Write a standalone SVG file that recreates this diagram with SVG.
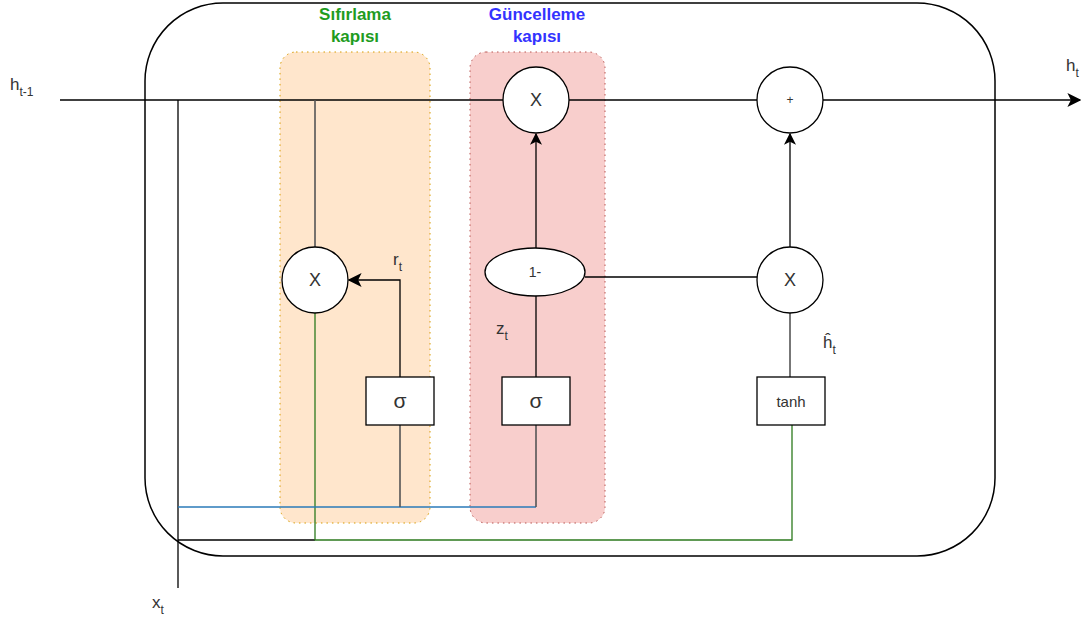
<svg xmlns="http://www.w3.org/2000/svg" width="1086" height="621" viewBox="0 0 1086 621">
  <defs>
    <marker id="arr" viewBox="0 0 10 10" refX="9" refY="5" markerWidth="12" markerHeight="12" orient="auto" markerUnits="userSpaceOnUse">
      <path d="M0,0 L10,5 L0,10 L2.5,5 Z" fill="#000"/>
    </marker>
    <marker id="arrBig" viewBox="0 0 10 10" refX="9" refY="5" markerWidth="14" markerHeight="14" orient="auto" markerUnits="userSpaceOnUse">
      <path d="M0,0 L10,5 L0,10 L2.5,5 Z" fill="#000"/>
    </marker>
  </defs>
  <style>
    text { font-family: "Liberation Sans", Arial, sans-serif; fill: #333; }
    .op { fill: #fff; stroke: #000; stroke-width: 1.3; }
    .box { fill: #fff; stroke: #000; stroke-width: 1.3; }
    .w { stroke: #000; stroke-width: 1.3; fill: none; }
    .g { stroke: #555; stroke-width: 1.6; fill: none; }
    .grn { stroke: #2d7a1e; stroke-width: 1.3; fill: none; }
    .blu { stroke: #2a7ab8; stroke-width: 1.3; fill: none; }
    .lbl { font-size: 17px; }
    .sub { font-size: 12px; }
    .sym { font-size: 18px; text-anchor: middle; }
    .gate { font-size: 17px; font-weight: bold; text-anchor: middle; }
  </style>

  <!-- cell boundary -->
  <rect id="cell" x="145" y="3" width="850" height="553" rx="78" ry="78" fill="none" stroke="#000" stroke-width="1.5"/>

  <!-- gate regions -->
  <g id="reset-gate">
    <rect x="280" y="52" width="150" height="471" rx="16" fill="#ffe6cc" stroke="#d79b00" stroke-width="1" stroke-dasharray="1.5 4"/>
    <text class="gate" x="355" y="20" style="fill:#1f9c1f">Sıfırlama</text>
    <text class="gate" x="355" y="42" style="fill:#1f9c1f">kapısı</text>
  </g>
  <g id="update-gate">
    <rect x="470" y="52" width="135" height="471" rx="16" fill="#f8cecc" stroke="#b85450" stroke-width="1" stroke-dasharray="1.5 4"/>
    <text class="gate" x="537" y="20" style="fill:#3333ff">Güncelleme</text>
    <text class="gate" x="537" y="42" style="fill:#3333ff">kapısı</text>
  </g>

  <!-- connectors -->
  <g id="connectors">
    <!-- h(t-1) running through the cell -->
    <path class="w" d="M60,100 H503"/>
    <path class="w" d="M569,100 H757"/>
    <path class="w" d="M823,100 H1080" marker-end="url(#arrBig)"/>
    <!-- x(t) input -->
    <path class="w" d="M178,100 V588"/>
    <!-- h(t-1) down to reset multiply -->
    <path class="g" d="M315,100 V247"/>
    <!-- reset product to tanh -->
    <path class="w" d="M178,540 H315"/>
    <path class="grn" d="M315,313 V540 H792 V425"/>
    <!-- x(t) into the sigmoids -->
    <path class="blu" d="M178,507 H536"/>
    <path class="g" d="M400,507 V425"/>
    <path class="g" d="M536,507 V425"/>
    <!-- r(t) -->
    <path class="w" d="M400,377 V280 H349" marker-end="url(#arrBig)"/>
    <!-- z(t) -->
    <path class="w" d="M536,377 V296"/>
    <path class="w" d="M536,248 V134" marker-end="url(#arr)"/>
    <path class="w" d="M585,277 H757"/>
    <!-- candidate -->
    <path class="g" d="M790,377 V313"/>
    <path class="w" d="M790,247 V134" marker-end="url(#arr)"/>
  </g>

  <!-- operators -->
  <g id="mul-top">
    <circle class="op" cx="536" cy="100" r="33"/>
    <text class="sym" x="536" y="106">X</text>
  </g>
  <g id="add-out">
    <circle class="op" cx="790" cy="100" r="33"/>
    <text class="sym" x="790" y="104" style="font-size:12px">+</text>
  </g>
  <g id="mul-reset">
    <circle class="op" cx="315" cy="280" r="33"/>
    <text class="sym" x="315" y="286">X</text>
  </g>
  <g id="one-minus">
    <ellipse class="op" cx="535" cy="272" rx="50" ry="24"/>
    <text class="sym" x="535" y="277" style="font-size:14px">1-</text>
  </g>
  <g id="mul-cand">
    <circle class="op" cx="790" cy="280" r="33"/>
    <text class="sym" x="790" y="286">X</text>
  </g>
  <g id="sigma-r">
    <rect class="box" x="366" y="377" width="68" height="48"/>
    <text class="sym" x="400" y="408" style="font-size:21px">σ</text>
  </g>
  <g id="sigma-z">
    <rect class="box" x="502" y="377" width="68" height="48"/>
    <text class="sym" x="536" y="408" style="font-size:21px">σ</text>
  </g>
  <g id="tanh">
    <rect class="box" x="757" y="377" width="68" height="48"/>
    <text class="sym" x="791" y="407" style="font-size:15px">tanh</text>
  </g>

  <!-- signal labels -->
  <g id="labels">
    <text class="lbl" x="10" y="90">h<tspan class="sub" dy="6">t-1</tspan></text>
    <text class="lbl" x="1066" y="71">h<tspan class="sub" dy="6">t</tspan></text>
    <text class="lbl" x="393" y="265">r<tspan class="sub" dy="6">t</tspan></text>
    <text class="lbl" x="496" y="334">z<tspan class="sub" dy="6">t</tspan></text>
    <text class="lbl" x="823" y="348">ĥ<tspan class="sub" dy="6">t</tspan></text>
    <text class="lbl" x="152" y="608">x<tspan class="sub" dy="6">t</tspan></text>
  </g>
</svg>
